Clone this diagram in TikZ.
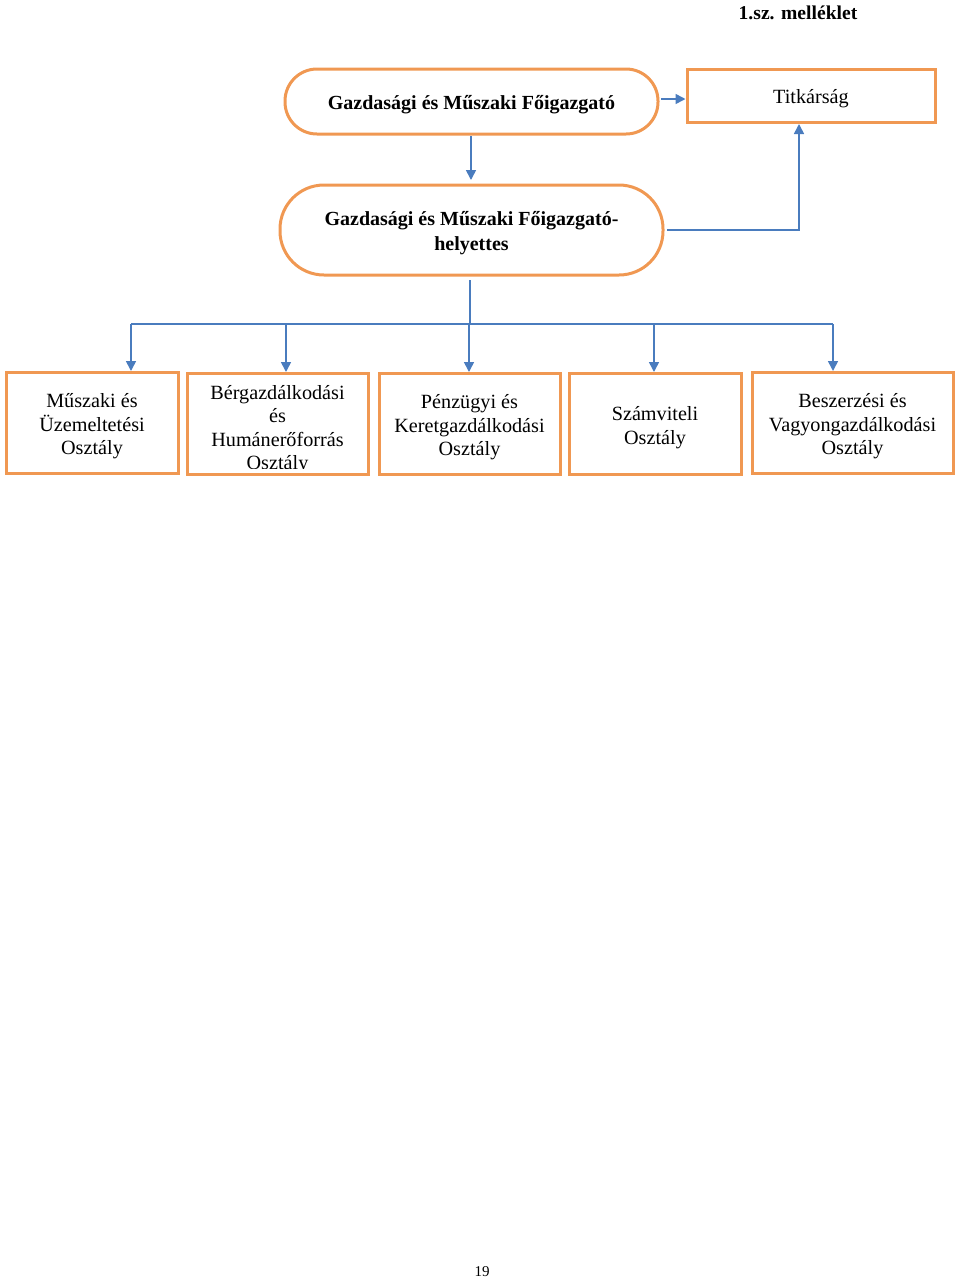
\documentclass[tikz,border=0pt]{standalone}
\usepackage{fontspec}
\setmainfont{Liberation Serif}
\usetikzlibrary{arrows.meta}
\definecolor{orng}{RGB}{240,152,82}
\definecolor{blu}{RGB}{74,124,190}
\begin{document}
\begin{tikzpicture}[x=1pt,y=-1pt,
  txt/.style={font=\fontsize{20.2}{23.5}\selectfont, align=center, inner sep=0pt},
  btxt/.style={txt, font=\fontsize{20}{25}\selectfont\bfseries},
  rbox/.style={draw=orng, line width=3pt, rounded corners=32pt, inner sep=0pt},
  sbox/.style={draw=orng, line width=3pt, inner sep=0pt},
  conn/.style={draw=blu, line width=1.6pt},
  arr/.style={conn, -{Triangle[length=10pt,width=10pt]}}]
\useasboundingbox (0,0) rectangle (960,1278);
% title
\node[font=\fontsize{19.6}{23}\selectfont\bfseries, inner sep=0pt] (title) at (798,13) {1.sz. melléklet};
% top boxes
\node[rbox, minimum width=373pt, minimum height=65pt] (fo) at (471.5,101.5) {};
\node[btxt] at (471.5,105) {Gazdasági és Műszaki Főigazgató};
\node[sbox, minimum width=248pt, minimum height=53pt] (tit) at (811,95.5) {};
\node[txt] at (811,99) {Titkárság};
\node[rbox, rounded corners=44pt, minimum width=383pt, minimum height=90pt] (hely) at (471.5,230) {};
\node[btxt] at (471.5,233) {Gazdasági és Műszaki Főigazgató-\\helyettes};
% connectors top
\coordinate (a1) at (661,99);
\draw[arr] (a1) -- (tit.west |- a1);
\coordinate (a2s) at (471,136);
\coordinate (a2e) at (471,180);
\draw[arr] (a2s) -- (a2e);
\coordinate (b1) at (667,230);
\coordinate (b2) at (799,230);
\coordinate (b3) at (799,124);
\draw[arr] (b1) -- (b2) -- (b3);
% bottom boxes
\node[sbox, minimum width=172pt, minimum height=101pt] (d1) at (92,422.5) {};
\node[sbox, minimum width=181pt, minimum height=101pt] (d2) at (277.5,423.5) {};
\node[sbox, minimum width=181pt, minimum height=101pt] (d3) at (469.5,423.5) {};
\node[sbox, minimum width=172pt, minimum height=101pt] (d4) at (655,423.5) {};
\node[sbox, minimum width=201pt, minimum height=101pt] (d5) at (852.5,422.5) {};
\node[txt] at (92,426.5) {Műszaki és\\Üzemeltetési\\Osztály};
\begin{scope}
\clip (188,374) rectangle (367,468.5);
\node[txt, anchor=north] at (277.5,385) {Bérgazdálkodási\\és\\Humánerőforrás\\Osztály};
\end{scope}
\node[txt] at (469.5,427.5) {Pénzügyi és\\Keretgazdálkodási\\Osztály};
\node[txt] at (655,427.5) {Számviteli\\Osztály};
\node[txt] at (852.5,426.5) {Beszerzési és\\Vagyongazdálkodási\\Osztály};
% bus
\coordinate (c0) at (470,280);
\coordinate (c1) at (470,324);
\coordinate (bl) at (131,324);
\coordinate (br) at (833,324);
\draw[conn] (c0) -- (c1);
\draw[conn] (bl) -- (br);
\coordinate (t1) at (131,324);
\coordinate (t2) at (286,324);
\coordinate (t3) at (469,324);
\coordinate (t4) at (654,324);
\coordinate (t5) at (833,324);
\draw[arr] (t1) -- (131,371);
\draw[arr] (t2) -- (286,372);
\draw[arr] (t3) -- (469,372);
\draw[arr] (t4) -- (654,372);
\draw[arr] (t5) -- (833,371);
% page number
\node[font=\fontsize{15}{18}\selectfont, inner sep=0pt] (pg) at (482,1272) {19};
\end{tikzpicture}
\end{document}
